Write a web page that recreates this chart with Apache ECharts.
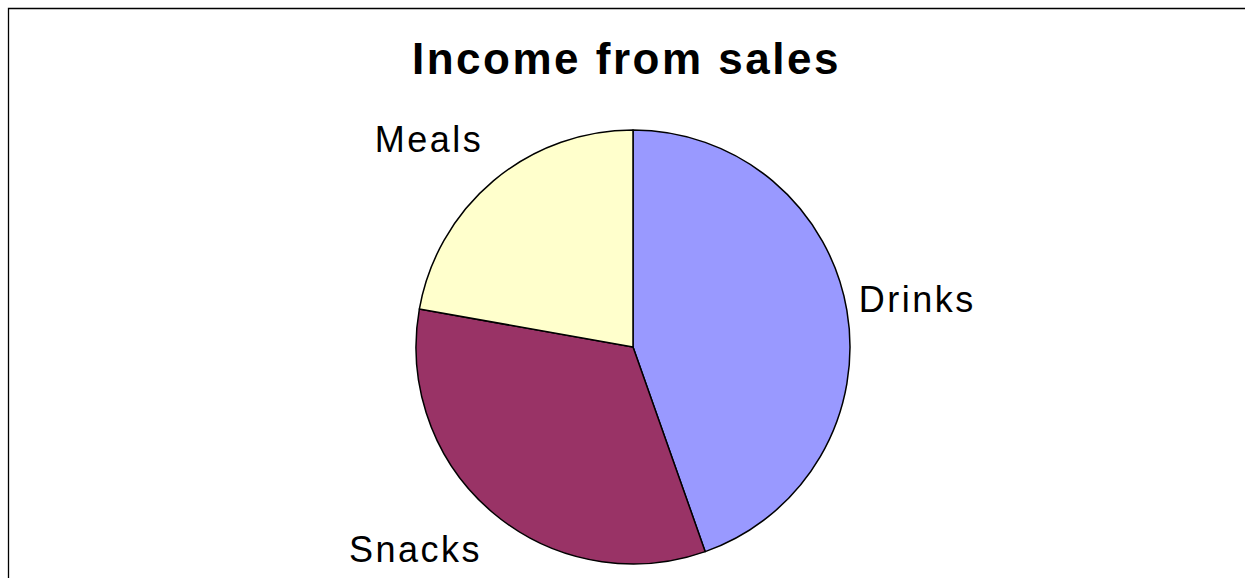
<!DOCTYPE html>
<html>
<head>
<meta charset="utf-8">
<script src="https://cdn.jsdelivr.net/npm/echarts@6/dist/echarts.min.js"></script>
<style>
html, body { margin: 0; padding: 0; background: #fff; }
#main { width: 1245px; height: 578px; }
#main svg text { letter-spacing: 2.5px; }
</style>
</head>
<body>
<div id="main"></div>
<script>
const titleText = 'Income from sales';
const categories = ['Drinks', 'Snacks', 'Meals'];
const values = [44.6, 33.2, 22.2];
const sliceColors = ['#9999FF', '#993366', '#FFFFCC'];

const labelShift = { Drinks: [2, -9], Snacks: [-4, 29], Meals: [-4, -33.5] };

const chart = echarts.init(document.getElementById('main'), null, { renderer: 'svg' });
chart.setOption({
  backgroundColor: '#ffffff',
  animation: false,
  title: {
    text: titleText,
    left: 407,
    top: 31,
    textStyle: { fontFamily: 'Liberation Sans, Arial, sans-serif', fontSize: 44, fontWeight: 'bold', color: '#000' }
  },
  graphic: [{
    type: 'rect',
    shape: { x: 8.5, y: 8.5, width: 1400, height: 800 },
    style: { fill: null, stroke: '#000', lineWidth: 1.3 },
    silent: true
  }],
  series: [{
    type: 'pie',
    center: [633, 347],
    radius: 217,
    startAngle: 90,
    clockwise: true,
    avoidLabelOverlap: false,
    data: categories.map((c, i) => ({ name: c, value: values[i], itemStyle: { color: sliceColors[i] } })),
    itemStyle: { borderColor: '#000', borderWidth: 1.5 },
    label: {
      show: true,
      position: 'outside',
      formatter: '{b}',
      fontFamily: 'Liberation Sans, Arial, sans-serif',
      fontSize: 36,
      color: '#000',
      distanceToLabelLine: 0
    },
    labelLine: { show: false, length: 10, length2: 0 },
    labelLayout: function (p) {
      const s = labelShift[categories[p.dataIndex]];
      return { dx: s[0], dy: s[1] };
    },
    emphasis: { disabled: true }
  }]
});
</script>
</body>
</html>
